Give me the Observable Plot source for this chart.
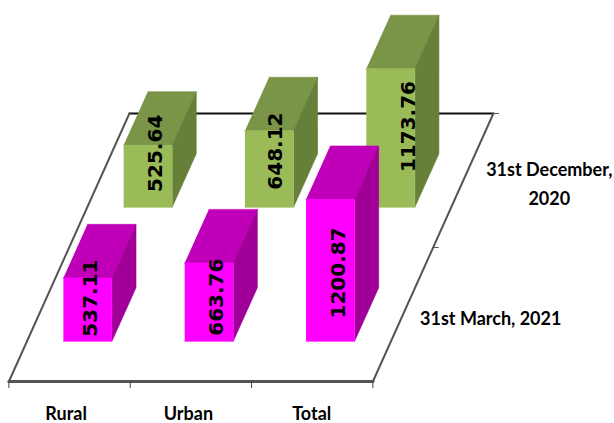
<!DOCTYPE html>
<html><head><meta charset="utf-8">
<style>html,body{margin:0;padding:0;background:#fff}svg{display:block}</style>
<script src="https://cdn.jsdelivr.net/npm/d3@7"></script>
<script src="https://cdn.jsdelivr.net/npm/@observablehq/plot@0.6"></script>
</head><body><div id="chart"></div>
<script>
const categories = ["Rural", "Urban", "Total"];
const seriesNames = ["31st March, 2021", "31st December,\n2020"];
const march2021 = [537.11, 663.76, 1200.87];
const december2020 = [525.64, 648.12, 1173.76];
const seriesValues = [march2021, december2020];
const frontColors = ["#ff00ff", "#9bbb59"];
const topColors = ["#c000b8", "#7a9547"];
const sideColors = ["#a00098", "#66803a"];
// label nudges (px), per series then category
const labelDx = [[3, 7.5, 8], [7.5, 6.5, 18]];
const labelDy = [[-11.5, -5, 2.5], [-23, -18, -11.5]];
const categoryDx = [-3.5, -2.5, -0.5];

// oblique projection of (category, series, value) onto the plot plane
const shear = 0.4966, rise = 1135.6;
const P = (c, s, v) => ({X: c + shear * s, Y: v + rise * s});
const nC = categories.length, nS = seriesNames.length;

const font = "'Lato','Noto Sans',sans-serif";
const marks = [];
const edge = (pts, o) => marks.push(Plot.line(pts, {x: "X", y: "Y", ...o}));

// floor
edge([P(0,0,0),P(nC,0,0),P(nC,nS,0),P(0,nS,0),P(0,0,0)], {fill:"#fff", stroke:"none"});
edge([P(0,nS,0),P(nC,nS,0)], {stroke:"#111", strokeWidth:2});
edge([P(0,0,0),P(0,nS,0)], {stroke:"#555", strokeWidth:2});
edge([P(nC,0,0),P(nC,nS,0)], {stroke:"#555", strokeWidth:2});
edge([P(0,0,0),P(nC,0,0)], {stroke:"#555", strokeWidth:3});
// ticks
d3.range(nC + 1).forEach(c => {
  const a = P(c,0,0);
  marks.push(Plot.ruleX([a.X], {y1: a.Y, y2: a.Y - 60, stroke:"#444", strokeWidth:1}));
});
[1, 2].forEach(s => {
  const a = P(nC,s,0);
  marks.push(Plot.ruleY([a.Y], {x1: a.X, x2: a.X + 0.05, stroke:"#555", strokeWidth:1}));
});

// bars: back series first
[1, 0].forEach(s => categories.forEach((_, c) => {
  const v = seriesValues[s][c];
  const c0 = c + .3, c1 = c + .7, s0 = s + .3, s1 = s + .7;
  const face = (pts, col) => edge(pts, {fill: col, stroke: col, strokeWidth: .6});
  face([P(c0,s0,v),P(c1,s0,v),P(c1,s1,v),P(c0,s1,v)], topColors[s]);
  face([P(c1,s0,0),P(c1,s1,0),P(c1,s1,v),P(c1,s0,v)], sideColors[s]);
  face([P(c0,s0,0),P(c1,s0,0),P(c1,s0,v),P(c0,s0,v)], frontColors[s]);
}));

// value labels
[1, 0].forEach(s => categories.forEach((_, c) => {
  const v = seriesValues[s][c];
  marks.push(Plot.text([{...P(c + .5, s + .3, v / 2), t: v.toFixed(2)}], {
    x:"X", y:"Y", text:"t", rotate:-90, textAnchor:"middle", lineAnchor:"middle",
    dx: labelDx[s][c], dy: labelDy[s][c],
    fontFamily:"'DejaVu Sans',sans-serif", fontWeight:"bold", fontSize:20, fill:"#000"
  }));
}));

// category labels
categories.forEach((t, c) => marks.push(Plot.text([{...P(c + .5, 0, 0), t}], {
  x:"X", y:"Y", text:"t", dy:33, dx: categoryDx[c], fontFamily:font, fontWeight:"bold", fontSize:18, fill:"#000"
})));
// series labels
marks.push(Plot.text([{...P(nC, .5, 0), t: seriesNames[0]}], {
  x:"X", y:"Y", text:"t", textAnchor:"start", dx:17, dy:5,
  fontFamily:font, fontWeight:"bold", fontSize:18, fill:"#000"
}));
marks.push(Plot.text([{...P(nC, 1.5, 0), t: seriesNames[1]}], {
  x:"X", y:"Y", text:"t", textAnchor:"middle", dx:86, dy:1, lineHeight:1.6,
  fontFamily:font, fontWeight:"bold", fontSize:18, fill:"#000"
}));

const catPx = 121.33, valPx = 0.118;
const chart = Plot.plot({
  width: 614, height: 423,
  marginTop: 0, marginRight: 0, marginBottom: 0, marginLeft: 0,
  x: {domain: [-8.4 / catPx, 605.6 / catPx], range: [0, 614], axis: null},
  y: {domain: [-42 / valPx, 381 / valPx], range: [423, 0], axis: null},
  style: {background: "#fff"},
  marks
});
document.getElementById("chart").appendChild(chart);
</script></body></html>
